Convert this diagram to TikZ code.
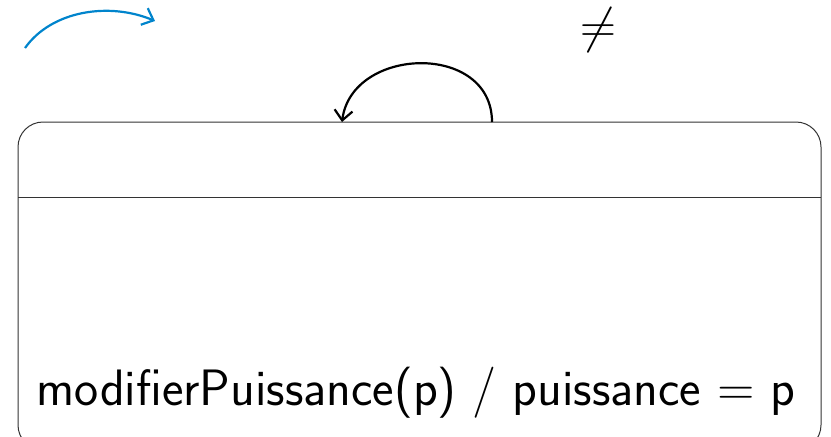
\documentclass[tikz,border=0pt]{standalone}
\usepackage{xcolor}
\usetikzlibrary{arrows.meta, positioning, calc}
\definecolor{flowblue}{RGB}{0,132,204}
\tikzset{
    statebox/.style={draw=black!80, line width=0.5pt, rounded corners=12.5pt},
    loopedge/.style={-{Straight Barb[length=5pt, width=9pt]}, line width=1.1pt},
    initedge/.style={-{Straight Barb[length=5pt, width=9pt]}, line width=1.1pt, draw=flowblue},
    bigtext/.style={font=\sffamily\fontsize{25.6}{30}\selectfont, inner sep=0pt},
    symtext/.style={font=\fontsize{23}{28}\selectfont, inner sep=0pt}
}
\begin{document}
\begin{tikzpicture}[x=0.5pt, y=-0.5pt]
    \useasboundingbox (0,0) rectangle (831,436);
    % state box, bottom runs past the page
    \draw[statebox] (18,122) rectangle (821,450);
    \coordinate (divL) at (18,197);
    \coordinate (divR) at (821,197);
    \draw[black!80, line width=0.5pt] (divL) -- (divR);
    \node[bigtext, anchor=base] (action) at (416,405) {modifierPuissance(p) / puissance = p};
    \node[symtext] (neq) at (598,30) {$\neq$};
    % self loop on top edge
    \coordinate (loopS) at (492,122);
    \coordinate (loopE) at (342,122);
    \draw[loopedge] (loopS) .. controls (492,42) and (352,46) .. (loopE);
    % initial arrow
    \coordinate (initS) at (25,48);
    \coordinate (initE) at (155,21);
    \draw[initedge] (initS) .. controls (52,10) and (110,2) .. (initE);
\end{tikzpicture}
\end{document}
